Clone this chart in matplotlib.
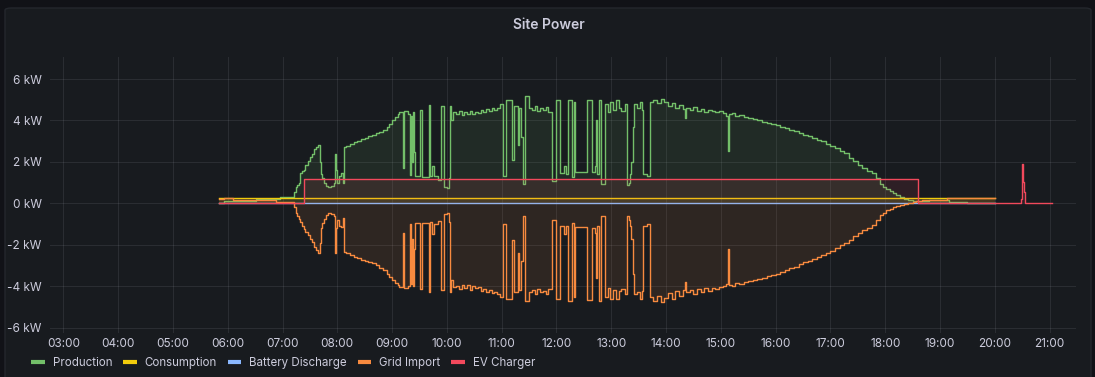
import matplotlib
matplotlib.use("Agg")
import matplotlib.pyplot as plt
import matplotlib.dates as mdates
from matplotlib.lines import Line2D
from matplotlib.patches import FancyBboxPatch
import pandas as pd

DAY = "2023-05-20 "

# production and grid import are sampled at the same time stamps (kW)
times = [
    "05:51", "05:56", "06:06", "06:31", "06:53", "06:57", "07:12", "07:13", "07:15", "07:16",
    "07:18", "07:19", "07:21", "07:23", "07:25", "07:28", "07:30", "07:32", "07:35", "07:37",
    "07:39", "07:41", "07:42", "07:43", "07:45", "07:48", "07:50", "07:53", "07:56", "07:58",
    "07:59", "08:00", "08:02", "08:04", "08:06", "08:07", "08:10", "08:14", "08:18", "08:22",
    "08:26", "08:30", "08:34", "08:38", "08:42", "08:46", "08:50", "08:54", "08:57", "09:00",
    "09:03", "09:06", "09:08", "09:12", "09:13", "09:17", "09:20", "09:21", "09:22", "09:23",
    "09:24", "09:25", "09:30", "09:33", "09:40", "09:41", "09:44", "09:46", "09:50", "09:53",
    "09:57", "10:00", "10:02", "10:03", "10:05", "10:07", "10:10", "10:13", "10:16", "10:19",
    "10:22", "10:25", "10:28", "10:31", "10:34", "10:37", "10:40", "10:43", "10:46", "10:49",
    "10:52", "10:55", "10:58", "11:01", "11:05", "11:11", "11:13", "11:18", "11:19", "11:21",
    "11:23", "11:26", "11:30", "11:33", "11:36", "11:39", "11:42", "11:45", "11:48", "11:51",
    "11:55", "11:59", "12:04", "12:08", "12:10", "12:13", "12:17", "12:19", "12:20", "12:33",
    "12:39", "12:42", "12:43", "12:44", "12:46", "12:49", "12:53", "12:56", "12:59", "13:02",
    "13:05", "13:08", "13:11", "13:15", "13:17", "13:19", "13:20", "13:22", "13:24", "13:25",
    "13:28", "13:31", "13:34", "13:35", "13:39", "13:42", "13:46", "13:50", "13:54", "13:58",
    "14:02", "14:06", "14:10", "14:14", "14:18", "14:21", "14:22", "14:26", "14:30", "14:34",
    "14:38", "14:42", "14:46", "14:50", "14:54", "14:58", "15:02", "15:06", "15:08", "15:09",
    "15:12", "15:16", "15:20", "15:25", "15:30", "15:35", "15:40", "15:45", "15:50", "15:55",
    "16:00", "16:05", "16:10", "16:15", "16:20", "16:25", "16:30", "16:35", "16:40", "16:45",
    "16:50", "16:55", "17:00", "17:05", "17:10", "17:15", "17:20", "17:25", "17:30", "17:35",
    "17:40", "17:45", "17:50", "17:54", "17:58", "18:01", "18:05", "18:08", "18:12", "18:16",
    "18:20", "18:25", "18:30", "18:34", "18:40", "18:48", "19:08", "19:10", "19:29", "20:00",
]
production = [
    0.00, 0.10, 0.10, 0.20, 0.22, 0.30, 0.30, 0.55, 0.80, 0.90,
    1.00, 1.45, 1.55, 1.60, 1.85, 2.05, 2.25, 2.40, 2.60, 2.70,
    2.80, 2.00, 1.40, 1.20, 1.00, 0.85, 0.80, 0.85, 1.00, 2.40,
    1.60, 1.00, 1.30, 1.45, 1.00, 2.70, 2.75, 2.85, 2.95, 3.00,
    3.10, 3.15, 3.25, 3.30, 3.40, 3.45, 3.55, 3.70, 3.85, 4.00,
    4.15, 4.30, 4.40, 1.70, 4.45, 4.30, 1.35, 4.20, 2.00, 4.40,
    2.50, 1.30, 4.50, 1.25, 4.75, 1.30, 1.80, 1.30, 1.15, 4.70,
    0.80, 0.75, 1.20, 4.70, 4.00, 4.40, 4.30, 4.45, 4.25, 4.40,
    4.30, 4.45, 4.30, 4.40, 4.35, 4.50, 4.40, 4.55, 4.45, 4.60,
    4.50, 4.60, 4.80, 1.30, 5.00, 2.10, 4.70, 2.80, 4.60, 3.20,
    0.95, 5.20, 4.60, 4.50, 4.70, 4.45, 4.60, 4.50, 4.65, 4.40,
    1.10, 5.00, 1.45, 1.80, 1.40, 5.00, 1.25, 4.90, 1.50, 5.00,
    1.50, 1.80, 4.00, 1.40, 5.00, 0.95, 4.80, 4.40, 4.90, 4.50,
    5.00, 4.60, 4.45, 4.80, 0.90, 1.00, 1.40, 2.00, 3.70, 4.80,
    4.60, 4.90, 4.50, 1.40, 1.30, 4.90, 5.00, 4.85, 5.05, 4.90,
    4.70, 4.85, 4.60, 4.75, 4.55, 4.10, 4.60, 4.50, 4.65, 4.45,
    4.55, 4.40, 4.50, 4.45, 4.40, 4.45, 4.35, 4.20, 2.55, 4.30,
    4.35, 4.20, 4.25, 4.15, 4.10, 4.05, 4.00, 3.95, 3.90, 3.85,
    3.80, 3.70, 3.62, 3.55, 3.48, 3.40, 3.32, 3.25, 3.15, 3.08,
    3.00, 2.88, 2.78, 2.68, 2.55, 2.42, 2.20, 2.05, 1.85, 1.70,
    1.58, 1.45, 1.20, 0.95, 0.80, 0.70, 0.58, 0.50, 0.40, 0.32,
    0.22, 0.15, 0.12, 0.10, 0.12, 0.15, 0.15, 0.06, 0.00, 0.00,
]
grid_import = [
    0.22, 0.26, 0.15, 0.15, 0.06, 0.06, 0.05, -0.18, -0.45, -0.60,
    -0.75, -0.90, -1.10, -1.25, -1.40, -1.55, -1.70, -1.85, -2.10, -2.25,
    -2.40, -1.90, -1.20, -0.95, -0.75, -0.55, -0.45, -0.50, -0.60, -2.40,
    -1.20, -0.80, -1.10, -1.15, -0.70, -2.35, -2.40, -2.50, -2.60, -2.65,
    -2.75, -2.80, -2.85, -2.90, -3.00, -3.10, -3.20, -3.40, -3.55, -3.70,
    -3.85, -3.95, -4.05, -1.45, -4.10, -4.00, -1.00, -3.90, -1.70, -4.00,
    -2.20, -0.95, -4.15, -0.95, -4.30, -0.90, -1.50, -1.00, -0.85, -4.20,
    -0.50, -0.45, -0.90, -4.30, -3.70, -4.05, -4.00, -4.15, -3.95, -4.10,
    -3.95, -4.20, -4.00, -4.10, -4.05, -4.25, -4.15, -4.30, -4.20, -4.35,
    -4.30, -4.40, -4.50, -1.00, -4.60, -1.75, -4.30, -2.40, -4.20, -2.80,
    -0.60, -4.70, -4.30, -4.20, -4.40, -4.15, -4.30, -4.25, -4.40, -4.15,
    -0.80, -4.60, -1.10, -1.50, -1.10, -4.70, -0.95, -4.50, -1.15, -4.65,
    -1.20, -1.45, -3.60, -1.10, -4.70, -0.60, -4.50, -4.10, -4.60, -4.20,
    -4.60, -4.25, -4.15, -4.40, -0.60, -0.80, -1.10, -1.70, -3.40, -4.40,
    -4.30, -4.60, -4.25, -1.10, -1.00, -4.50, -4.70, -4.45, -4.75, -4.55,
    -4.35, -4.60, -4.25, -4.45, -4.20, -3.80, -4.30, -4.20, -4.40, -4.15,
    -4.30, -4.10, -4.25, -4.10, -4.15, -4.05, -4.00, -3.90, -2.20, -3.95,
    -4.00, -3.85, -3.90, -3.80, -3.75, -3.70, -3.65, -3.60, -3.50, -3.45,
    -3.40, -3.30, -3.20, -3.12, -3.05, -2.95, -2.85, -2.78, -2.68, -2.58,
    -2.48, -2.38, -2.28, -2.15, -2.02, -1.90, -1.75, -1.60, -1.42, -1.30,
    -1.18, -1.05, -0.80, -0.58, -0.45, -0.34, -0.25, -0.20, -0.15, -0.10,
    -0.05, 0.00, 0.05, 0.11, 0.15, 0.18, 0.27, 0.27, 0.26, 0.26,
]

cons_times = ["05:51", "20:00"]
consumption = [0.28, 0.28]

battery_times = ["05:51", "20:00"]
battery_discharge = [0.0, 0.0]

ev_times = ["05:51", "07:24", "18:36", "20:29", "20:30", "20:31", "20:32", "20:33", "21:03"]
ev_charger = [0.0, 1.19, 0.0, 0.2, 1.9, 1.05, 0.55, 0.0, 0.0]

assert len(times) == len(production) == len(grid_import)


def to_dt(tlist):
    return pd.to_datetime([DAY + t for t in tlist])


BG = "#111217"
PANEL = "#181b1f"
TEXT = "#ccccdc"
plt.rcParams["font.family"] = ["Inter", "DejaVu Sans"]

fig = plt.figure(figsize=(10.95, 3.77), dpi=100, facecolor=BG)
W, H = 1095, 377
panel = FancyBboxPatch((5 / W, -0.05), 1086 / W, (377 - 8) / H + 0.05,
                       boxstyle="round,pad=0,rounding_size=0.006",
                       transform=fig.transFigure, facecolor=PANEL,
                       edgecolor="#24272d", linewidth=1.0, zorder=-10)
fig.patches.append(panel)
fig.text(549 / W, 1 - 25 / H, "Site Power", ha="center", va="center",
         fontsize=10, fontweight="semibold", color=TEXT)

ax = fig.add_axes([50 / W, 1 - 332.7 / H, (1076 - 50) / W, (332.7 - 57.3) / H])
ax.set_facecolor("none")
ax.set_zorder(5)

series = [
    ("Production", times, production, "#73bf69"),
    ("Consumption", cons_times, consumption, "#f2cc0c"),
    ("Battery Discharge", battery_times, battery_discharge, "#8ab8ff"),
    ("Grid Import", times, grid_import, "#f78a3f"),
    ("EV Charger", ev_times, ev_charger, "#f2495c"),
]
handles = []
for i, (name, tt, vals, col) in enumerate(series):
    x = to_dt(tt)
    ax.fill_between(x, 0, vals, step="post", color=col, alpha=0.1, linewidth=0, zorder=2 + i)
    ax.step(x, vals, where="post", color=col, linewidth=1.0, zorder=3 + i)
    handles.append(Line2D([0], [0], color=col, linewidth=3, solid_capstyle="butt", label=name))

ax.set_xlim(pd.Timestamp(DAY + "02:45:25"), pd.Timestamp(DAY + "21:28:50"))
ax.set_ylim(-6.245, 7.05)
ax.set_yticks([-6, -4, -2, 0, 2, 4, 6])
ax.set_yticklabels([f"{v} kW" for v in [-6, -4, -2, 0, 2, 4, 6]])
ax.xaxis.set_major_locator(mdates.HourLocator(byhour=range(3, 22)))
ax.xaxis.set_major_formatter(mdates.DateFormatter("%H:%M"))
ax.tick_params(length=0, colors=TEXT, labelsize=8.5)
ax.tick_params(axis="x", pad=4)
ax.tick_params(axis="y", pad=6)
ax.grid(True, color="#ccccdc", alpha=0.1, linewidth=0.8)
for s in ax.spines.values():
    s.set_visible(False)

leg = fig.legend(handles=handles, loc="center left", bbox_to_anchor=(31 / W, 1 - 363 / H),
                 ncol=5, frameon=False, fontsize=8.3, handlelength=1.2, handletextpad=0.68,
                 columnspacing=0.93, borderpad=0, borderaxespad=0)
for t in leg.get_texts():
    t.set_color(TEXT)

fig.savefig("out.png", dpi=100, facecolor=BG)
